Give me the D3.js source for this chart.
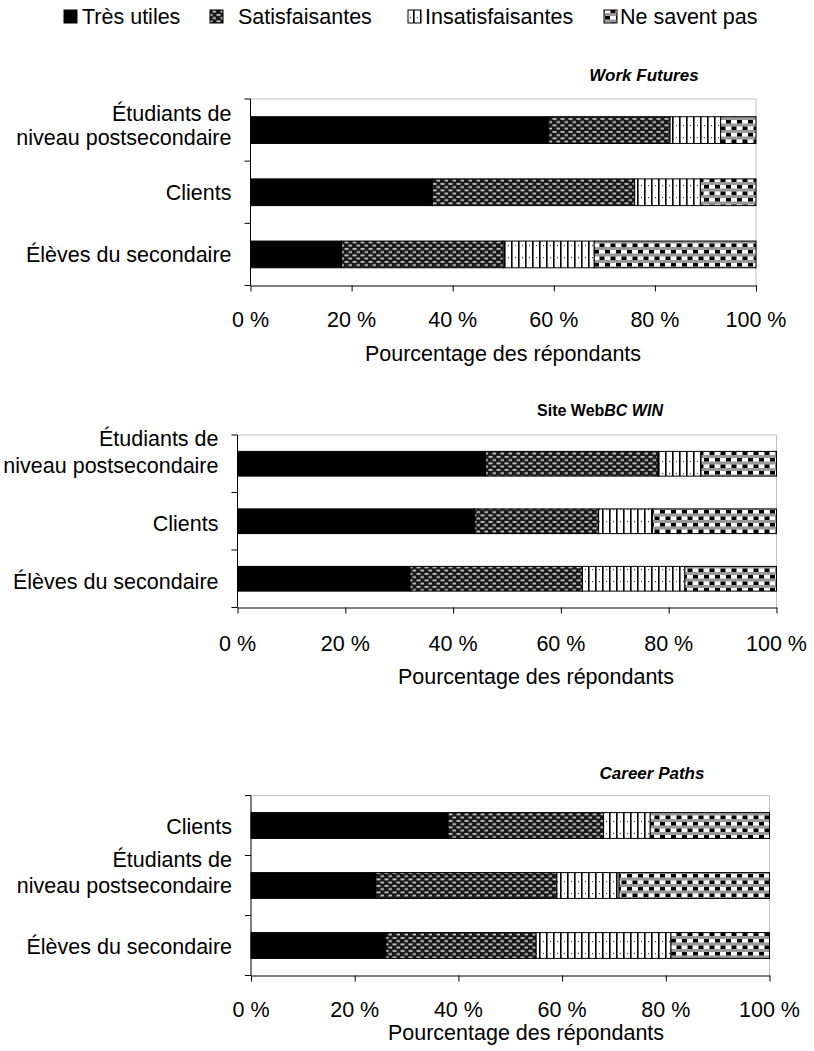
<!DOCTYPE html>
<html><head><meta charset="utf-8">
<script src="https://cdn.jsdelivr.net/npm/d3@7"></script>
<style>body{margin:0;background:#fff}svg{display:block}text{font-family:"Liberation Sans",Arial,sans-serif;fill:#000}</style>
</head><body>
<script>
// ---- data ----
const seriesNames = ["Très utiles", "Satisfaisantes", "Insatisfaisantes", "Ne savent pas"];
const tickValues = [0, 20, 40, 60, 80, 100];
const tickLabels = ["0 %", "20 %", "40 %", "60 %", "80 %", "100 %"];
const axisTitle = "Pourcentage des répondants";

const wfCategories = ["Étudiants de\nniveau postsecondaire", "Clients", "Élèves du secondaire"];
const wfTres  = [59, 36, 18];
const wfSat   = [24, 40, 32];
const wfInsat = [10, 13, 18];
const wfNsp   = [7, 11, 32];

const bcCategories = ["Étudiants de\nniveau postsecondaire", "Clients", "Élèves du secondaire"];
const bcTres  = [46, 44, 32];
const bcSat   = [32, 23, 32];
const bcInsat = [8, 10, 19];
const bcNsp   = [14, 23, 17];

const cpCategories = ["Clients", "Étudiants de\nniveau postsecondaire", "Élèves du secondaire"];
const cpTres  = [38, 24, 26];
const cpSat   = [30, 35, 29];
const cpInsat = [9, 12, 26];
const cpNsp   = [23, 29, 19];

// ---- layout ----
const W = 814, H = 1051, FS = 21.5;
const svg = d3.select("body").append("svg").attr("width", W).attr("height", H);
const defs = svg.append("defs");

// patterns
const pSat = defs.append("pattern").attr("id","pSat").attr("patternUnits","userSpaceOnUse").attr("width",8).attr("height",6.5);
pSat.append("rect").attr("width",8).attr("height",6.5).attr("fill","#1a1a1a");
pSat.append("rect").attr("x",0.5).attr("y",1).attr("width",4).attr("height",1.8).attr("fill","#c4c4c4");
pSat.append("rect").attr("x",4.5).attr("y",4.2).attr("width",4).attr("height",1.8).attr("fill","#c4c4c4");

const pIns = defs.append("pattern").attr("id","pIns").attr("patternUnits","userSpaceOnUse").attr("width",7).attr("height",12);
pIns.append("rect").attr("width",7).attr("height",12).attr("fill","#fff");
pIns.append("rect").attr("x",0).attr("y",0).attr("width",1.6).attr("height",12).attr("fill","#000");
pIns.append("rect").attr("x",4).attr("y",5).attr("width",1).attr("height",1.2).attr("fill","#444");

const pNsp = defs.append("pattern").attr("id","pNsp").attr("patternUnits","userSpaceOnUse").attr("width",11).attr("height",13);
pNsp.append("rect").attr("width",11).attr("height",13).attr("fill","#fff");
pNsp.append("rect").attr("x",0).attr("y",0).attr("width",11).attr("height",3).attr("fill","#9a9a9a");
pNsp.append("rect").attr("x",0).attr("y",6.5).attr("width",11).attr("height",3).attr("fill","#9a9a9a");
pNsp.append("rect").attr("x",0).attr("y",3).attr("width",5).attr("height",3.5).attr("fill","#000");
pNsp.append("rect").attr("x",5.5).attr("y",9.5).attr("width",5).attr("height",3.5).attr("fill","#000");

const fills = ["#000", "url(#pSat)", "url(#pIns)", "url(#pNsp)"];

// legend
const legendX = [64, 210, 408, 604];
const legendTextX = [82, 238, 425, 620];
const lg = svg.append("g");
seriesNames.forEach((n, i) => {
  lg.append("rect").attr("x", legendX[i]).attr("y", 10).attr("width", 13).attr("height", 13)
    .attr("fill", fills[i]).attr("stroke", "#000").attr("stroke-width", 1);
  lg.append("text").attr("x", legendTextX[i]).attr("y", 17).attr("dominant-baseline", "central")
    .attr("font-size", FS).text(n);
});

function drawChart(cfg, categories, series) {
  const g = svg.append("g");
  const x = d3.scaleLinear().domain([0, 100]).range([cfg.left, cfg.right]);
  const y = d3.scaleBand().domain(categories).range([cfg.top, cfg.bottom]).paddingInner(0.57).paddingOuter(0.285);
  const step = y.step();

  // plot border (top, right) light gray
  g.append("path").attr("d", `M${cfg.left},${cfg.top}H${cfg.right}V${cfg.bottom}`)
    .attr("fill", "none").attr("stroke", "#c0c0c0").attr("stroke-width", 1);

  // stacked bars
  const rows = categories.map((c, i) => ({ cat: c, vals: series.map(s => s[i]) }));
  rows.forEach(r => {
    let acc = 0;
    r.vals.forEach((v, k) => {
      g.append("rect").attr("x", x(acc)).attr("y", y(r.cat))
        .attr("width", x(acc + v) - x(acc)).attr("height", y.bandwidth())
        .attr("fill", fills[k]).attr("stroke", "#000").attr("stroke-width", 1);
      acc += v;
    });
  });

  // x axis
  const xa = d3.axisBottom(x).tickValues(tickValues).tickFormat(() => "").tickSizeInner(6).tickSizeOuter(0);
  const xg = g.append("g").attr("transform", `translate(0,${cfg.bottom})`).call(xa);
  xg.select(".domain").attr("stroke", "#000");
  xg.selectAll(".tick line").attr("stroke", "#000");
  tickValues.forEach((t, i) => {
    g.append("text").attr("x", x(t)).attr("y", cfg.tickY).attr("text-anchor", "middle")
      .attr("dominant-baseline", "central").attr("font-size", FS).text(tickLabels[i]);
  });

  // y axis line and separator ticks
  g.append("line").attr("x1", cfg.left).attr("x2", cfg.left).attr("y1", cfg.top).attr("y2", cfg.bottom).attr("stroke", "#000");
  for (let i = 0; i <= categories.length; i++) {
    const yy = cfg.top + i * step;
    g.append("line").attr("x1", cfg.left - 6).attr("x2", cfg.left).attr("y1", yy).attr("y2", yy).attr("stroke", "#000");
  }

  // category labels
  categories.forEach(c => {
    const lines = c.split("\n");
    const cy = y(c) + y.bandwidth() / 2;
    lines.forEach((ln, j) => {
      const off = lines.length === 1 ? cfg.singleOff : cfg.twoOff[j];
      g.append("text").attr("x", cfg.left - 19).attr("y", cy + off).attr("text-anchor", "end")
        .attr("dominant-baseline", "central").attr("font-size", FS).text(ln);
    });
  });

  // axis title
  g.append("text").attr("x", cfg.axisTitleX).attr("y", cfg.axisTitleY).attr("text-anchor", "middle")
    .attr("dominant-baseline", "central").attr("font-size", FS).text(axisTitle);

  // chart title
  const t = g.append("text").attr("x", cfg.titleX).attr("y", cfg.titleY).attr("text-anchor", "middle")
    .attr("dominant-baseline", "central").attr("font-size", cfg.titleSize).attr("font-weight", "bold");
  cfg.title.forEach(p => t.append("tspan").attr("font-style", p.italic ? "italic" : "normal").text(p.t));
}

drawChart({ left: 250.5, right: 756, top: 99, bottom: 285.5, tickY: 320, axisTitleX: 503, axisTitleY: 354,
  titleX: 644, titleY: 75, titleSize: 17, singleOff: 1, twoOff: [-16, 8],
  title: [{ t: "Work Futures", italic: true }] },
  wfCategories, [wfTres, wfSat, wfInsat, wfNsp]);

drawChart({ left: 237.5, right: 776.5, top: 435, bottom: 607.5, tickY: 644, axisTitleX: 536, axisTitleY: 677,
  titleX: 600, titleY: 410, titleSize: 16, singleOff: 3, twoOff: [-25, 2],
  title: [{ t: "Site Web", italic: false }, { t: "BC WIN", italic: true }] },
  bcCategories, [bcTres, bcSat, bcInsat, bcNsp]);

drawChart({ left: 251, right: 769.5, top: 795.5, bottom: 975.5, tickY: 1010, axisTitleX: 526, axisTitleY: 1033,
  titleX: 652, titleY: 773, titleSize: 17, singleOff: 1, twoOff: [-26, 0],
  title: [{ t: "Career Paths", italic: true }] },
  cpCategories, [cpTres, cpSat, cpInsat, cpNsp]);
</script>
</body></html>
